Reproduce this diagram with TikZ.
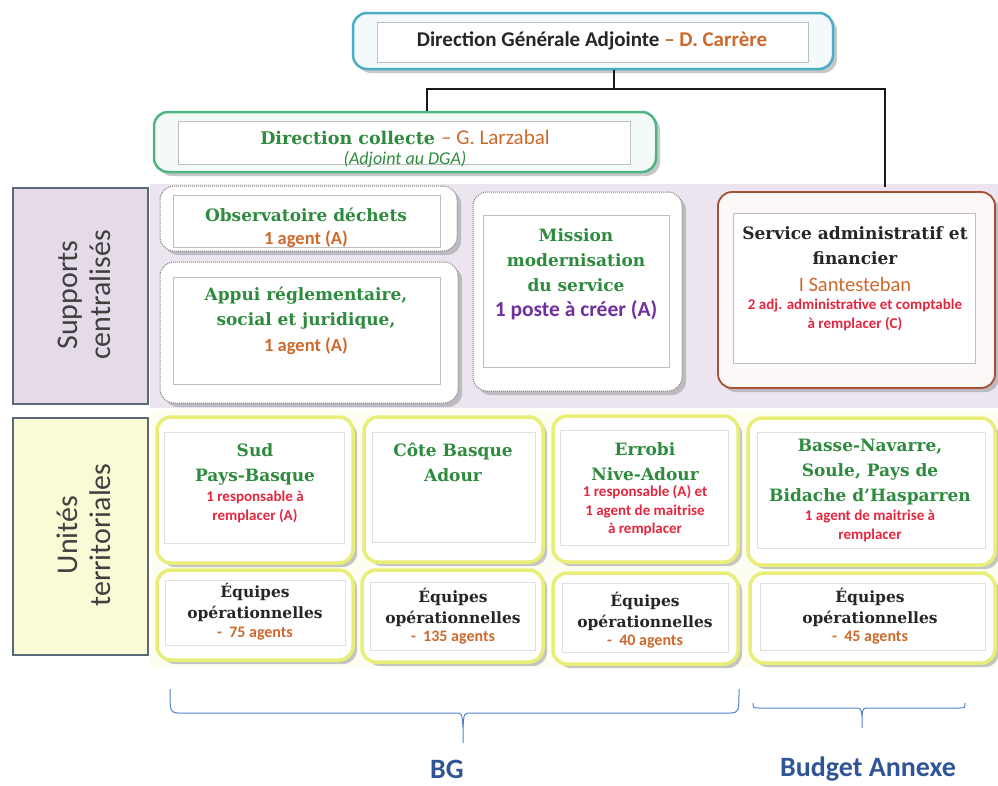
\documentclass[tikz,border=0pt]{standalone}
\usepackage{fontspec}
\setmainfont{DejaVu Serif}
\setsansfont{Carlito}
\usetikzlibrary{shadows}

\definecolor{vert}{RGB}{46,139,62}
\definecolor{orange}{RGB}{205,105,45}
\definecolor{rouge}{RGB}{228,38,62}
\definecolor{violet}{RGB}{112,48,160}
\definecolor{bleutexte}{RGB}{47,85,151}
\definecolor{bleuaccolade}{RGB}{80,130,205}
\definecolor{bleudga}{RGB}{75,172,198}
\definecolor{vertcollecte}{RGB}{80,180,130}
\definecolor{brunsaf}{RGB}{165,80,50}
\definecolor{jaunebord}{RGB}{232,238,120}
\definecolor{lavande}{RGB}{236,229,240}
\definecolor{lavandelabel}{RGB}{228,218,232}
\definecolor{jaunelabel}{RGB}{250,250,215}
\definecolor{jaunefond}{RGB}{253,253,242}
\definecolor{bordlabel}{RGB}{90,105,120}

\begin{document}
\begin{tikzpicture}[x=1pt,y=-1pt,
	outer/.style={rounded corners=14pt, inner sep=0, fill=white,
		drop shadow={shadow xshift=4pt, shadow yshift=-4pt, fill=black!40, opacity=.55}},
	dotbox/.style={outer, draw=black!50, densely dotted, line width=1pt},
	unitbox/.style={outer, draw=jaunebord, line width=3.5pt},
	inner/.style={draw=black!25, line width=.6pt, inner sep=0, fill=white},
	label/.style={draw=bordlabel, line width=2pt, inner sep=0},
	vlabel/.style={rotate=90, inner sep=0, align=center, text=black!75,
		font=\sffamily\fontsize{30}{33}\selectfont},
	titre/.style={inner sep=0, align=center, text=vert, font=\bfseries\fontsize{17}{25}\selectfont},
	equipe/.style={inner sep=0, align=center, text=black!85, font=\bfseries\fontsize{15.5}{21}\selectfont},
	note/.style={inner sep=0, align=center, text=rouge, font=\sffamily\bfseries\fontsize{15}{18.5}\selectfont},
	agents/.style={inner sep=0, text=orange, font=\sffamily\bfseries\fontsize{16}{18}\selectfont},
	unagent/.style={inner sep=0, text=orange, font=\sffamily\bfseries\fontsize{18.5}{20}\selectfont},
	budget/.style={inner sep=0, text=bleutexte, font=\sffamily\bfseries\fontsize{28}{30}\selectfont},
	link/.style={line width=2.6pt, black!90},
	accolade/.style={bleuaccolade, line width=1pt}]
	\useasboundingbox (0,0) rectangle (998,785);
	
	% bandeaux
	\fill[lavande] (150,184) rectangle (998,408);
	\fill[jaunefond] (150,410) rectangle (998,668);
	\node[label, fill=lavandelabel, minimum width=135, minimum height=216] (supports) at (80.5,296) {};
	\node[vlabel] at (84,295) {Supports\\centralisés};
	\node[label, fill=jaunelabel, minimum width=135, minimum height=237] (unites) at (80.5,536.5) {};
	\node[vlabel] at (84,535) {Unités\\territoriales};
	
	% direction
	\node[outer, draw=bleudga, line width=2.5pt, fill=bleudga!6, minimum width=480, minimum height=56] (dga) at (593,41) {};
	\node[inner, minimum width=431, minimum height=40] (dgain) at (592.5,42) {};
	\node[inner sep=0, font=\sffamily\bfseries\fontsize{21}{24}\selectfont, text=black!85] (dgatxt) at (592,41)
		{Direction Générale Adjointe \textcolor{orange}{– D. Carrère}};
	
	\node[outer, draw=vertcollecte, line width=2.5pt, fill=vertcollecte!6, minimum width=502, minimum height=60] (collecte) at (405,142) {};
	\node[inner, minimum width=452, minimum height=43] (collectein) at (404,142.5) {};
	\node[titre, font=\bfseries\fontsize{17.5}{22}\selectfont] (collectetxt) at (405,137)
		{Direction collecte \textcolor{orange}{\sffamily\mdseries\fontsize{21}{22}\selectfont – G. Larzabal}};
	\node[inner sep=0, text=vert, font=\sffamily\itshape\fontsize{18}{20}\selectfont] at (405,159) {(Adjoint au DGA)};
	
	% supports centralises
	\node[dotbox, minimum width=297, minimum height=65] (obs) at (308.5,218.5) {};
	\node[inner, minimum width=267, minimum height=52] (obsin) at (306.5,221) {};
	\node[titre] at (306,215) {Observatoire déchets};
	\node[unagent] at (306,239) {1 agent (A)};
	
	\node[dotbox, minimum width=298, minimum height=141] (appui) at (309,332.5) {};
	\node[inner, minimum width=267, minimum height=107] (appuiin) at (306.5,330.5) {};
	\node[titre] at (306,308.5) {Appui réglementaire,\\social et juridique,};
	\node[unagent] at (306,346) {1 agent (A)};
	
	\node[dotbox, minimum width=209, minimum height=199] (mission) at (577.5,291.5) {};
	\node[inner, minimum width=186, minimum height=152] (missionin) at (576,291) {};
	\node[titre] at (576,260) {Mission\\modernisation\\du service};
	\node[inner sep=0, text=violet, font=\sffamily\bfseries\fontsize{21.5}{24}\selectfont] at (576,310) {1 poste à créer (A)};
	
	\node[outer, draw=brunsaf, line width=1.8pt, fill=brunsaf!4, minimum width=277, minimum height=196] (saf) at (856.5,290) {};
	\node[inner, minimum width=242, minimum height=150] (safin) at (854,288) {};
	\node[titre, text=black!85] at (855,245.5) {Service administratif et\\financier};
	\node[inner sep=0, text=orange, font=\sffamily\fontsize{20.5}{22}\selectfont] at (855,284) {I Santesteban};
	\node[note] at (855,315) {2 adj. administrative et comptable\\à remplacer (C)};
	
	% liaisons
	\coordinate (busL) at (427,89);
	\coordinate (busR) at (885,89);
	\draw[link] ([xshift=21pt]dga.south) |- (busL) -- (busL |- collecte.north);
	\draw[link] (busL) -- (busR) -- ([yshift=4pt]busR |- saf.north);
	
	% unites territoriales
	\node[unitbox, minimum width=196, minimum height=146] (sud) at (255,490) {};
	\node[inner, draw=black!12, minimum width=180, minimum height=111] (sudin) at (254,487.5) {};
	\node[titre] at (255,464.5) {Sud\\Pays-Basque};
	\node[note] at (255,507) {1 responsable à\\remplacer (A)};
	
	\node[unitbox, minimum width=179, minimum height=145] (cote) at (453.5,489.5) {};
	\node[inner, draw=black!12, minimum width=163, minimum height=110] (cotein) at (453.5,487) {};
	\node[titre] at (453,462) {Côte Basque\\Adour};
	
	\node[unitbox, minimum width=185, minimum height=146] (errobi) at (645.5,489) {};
	\node[inner, draw=black!12, minimum width=168, minimum height=115] (errobiin) at (644,487.5) {};
	\node[titre] at (645,462) {Errobi\\Nive-Adour};
	\node[note] at (645,511) {1 responsable (A) et\\1 agent de maitrise\\à remplacer};
	
	\node[unitbox, minimum width=247, minimum height=147] (basse) at (871.5,491.5) {};
	\node[inner, draw=black!12, minimum width=228, minimum height=116] (bassein) at (871,490) {};
	\node[titre] at (870,472) {Basse-Navarre,\\Soule, Pays de\\Bidache d’Hasparren};
	\node[note] at (870,526) {1 agent de maitrise à\\remplacer};
	
	% equipes operationnelles
	\node[unitbox, minimum width=196, minimum height=90] (eq1) at (255,615) {};
	\node[inner, draw=black!12, minimum width=180, minimum height=65] (eq1in) at (255,612.5) {};
	\node[equipe] at (255,602.5) {Équipes\\opérationnelles};
	\node[agents] at (255,634) {-\ \ 75 agents};
	
	\node[unitbox, minimum width=181, minimum height=92] (eq2) at (452.5,616) {};
	\node[inner, draw=black!12, minimum width=165, minimum height=68] (eq2in) at (452.5,616) {};
	\node[equipe] at (453,607.5) {Équipes\\opérationnelles};
	\node[agents] at (453,638) {-\ \ 135 agents};
	
	\node[unitbox, minimum width=185, minimum height=91] (eq3) at (645.5,618.5) {};
	\node[inner, draw=black!12, minimum width=166, minimum height=69] (eq3in) at (645,617.5) {};
	\node[equipe] at (645,611.5) {Équipes\\opérationnelles};
	\node[agents] at (645,642) {-\ \ 40 agents};
	
	\node[unitbox, minimum width=245, minimum height=90] (eq4) at (872.5,618) {};
	\node[inner, draw=black!12, minimum width=225, minimum height=67] (eq4in) at (872.5,616.5) {};
	\node[equipe] at (870,607.5) {Équipes\\opérationnelles};
	\node[agents] at (870,638) {-\ \ 45 agents};
	
	% accolades
	\draw[accolade] (170,689) .. controls (170,712) .. (178,713) -- (455,713) .. controls (462,713) .. (463,727) -- (463,743);
	\draw[accolade] (463,727) .. controls (464,713) .. (471,713) -- (731,713) .. controls (739,712) .. (739,689);
	\draw[accolade] (753,703) .. controls (753,708) .. (759,708) -- (855,708) .. controls (861,708) .. (862,716) -- (862,728);
	\draw[accolade] (862,716) .. controls (863,708) .. (869,708) -- (959,708) .. controls (965,708) .. (965,703);
	\node[budget] (bg) at (447,769) {BG};
	\node[budget] (annexe) at (868,769) {Budget Annexe};
	
\end{tikzpicture}
\end{document}
